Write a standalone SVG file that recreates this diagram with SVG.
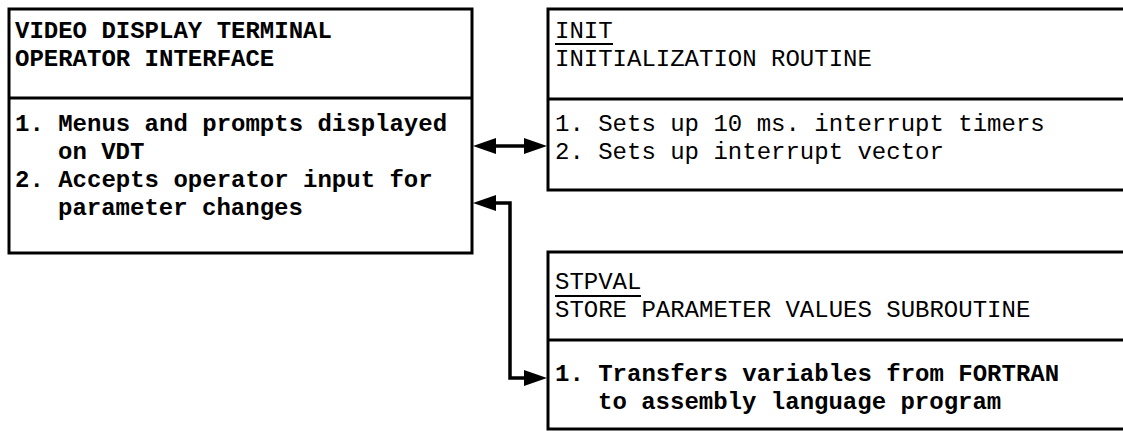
<svg xmlns="http://www.w3.org/2000/svg" width="1123" height="431" viewBox="0 0 1123 431">
<defs>
<style>
.box{fill:#fff;stroke:#000;stroke-width:3}
.div{stroke:#000;stroke-width:3}
.t{font-family:"Liberation Mono","Courier New",monospace;font-size:24px;fill:#000}
.b{font-weight:bold}
.ul{stroke:#000;stroke-width:2}
.conn{fill:none;stroke:#000;stroke-width:3.5}
.head{fill:#000}
</style>
</defs>
<rect width="1123" height="431" fill="#fff"/>
<g id="vdt">
<rect class="box" x="9" y="9" width="463" height="244"/>
<line class="div" x1="9" y1="98" x2="472" y2="98"/>
<text class="t b" x="15" y="38">VIDEO DISPLAY TERMINAL</text>
<text class="t b" x="15" y="66">OPERATOR INTERFACE</text>
<text class="t b" x="15" y="131">1. Menus and prompts displayed</text>
<text class="t b" x="58" y="159">on VDT</text>
<text class="t b" x="15" y="187">2. Accepts operator input for</text>
<text class="t b" x="58" y="215">parameter changes</text>
</g>
<g id="init">
<rect class="box" x="548" y="9" width="590" height="181"/>
<line class="div" x1="548" y1="99" x2="1123" y2="99"/>
<text class="t" x="555" y="38">INIT</text>
<line class="ul" x1="555" y1="44" x2="613" y2="44"/>
<text class="t" x="555" y="66">INITIALIZATION ROUTINE</text>
<text class="t" x="555" y="131">1. Sets up 10 ms. interrupt timers</text>
<text class="t" x="555" y="159">2. Sets up interrupt vector</text>
</g>
<g id="stpval">
<rect class="box" x="548" y="252" width="590" height="177"/>
<line class="div" x1="548" y1="340" x2="1123" y2="340"/>
<text class="t" x="555" y="289">STPVAL</text>
<line class="ul" x1="555" y1="296" x2="641" y2="296"/>
<text class="t" x="555" y="317">STORE PARAMETER VALUES SUBROUTINE</text>
<text class="t b" x="555" y="381">1. Transfers variables from FORTRAN</text>
<text class="t b" x="598" y="409">to assembly language program</text>
</g>
<g id="connectors">
<line class="conn" x1="490" y1="146" x2="530" y2="146"/>
<polygon class="head" points="473,146 496,138 496,154"/>
<polygon class="head" points="547,146 524,138 524,154"/>
<polyline class="conn" points="490,203 510,203 510,378 530,378"/>
<polygon class="head" points="473,203 496,195 496,211"/>
<polygon class="head" points="547,378 524,370 524,386"/>
</g>
</svg>
